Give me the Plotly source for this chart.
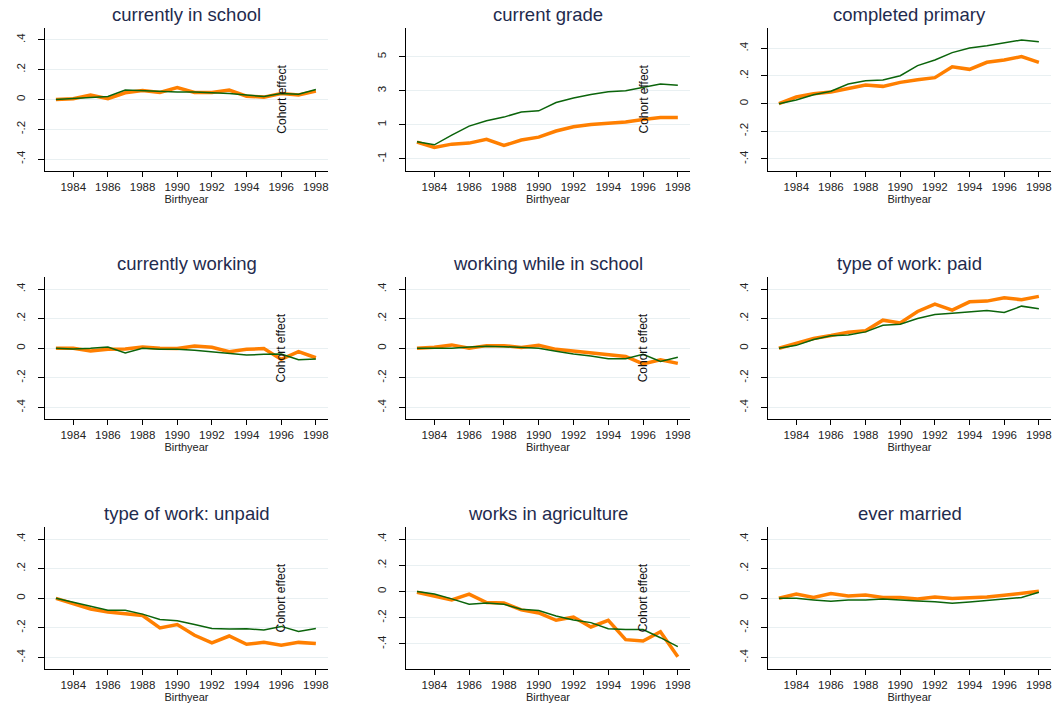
import plotly.graph_objects as go

# Birth cohorts on the horizontal axis
years = list(range(1983, 1999))

# Panel titles (row by row)
titles = [
    "currently in school", "current grade", "completed primary",
    "currently working", "working while in school", "type of work: paid",
    "type of work: unpaid", "works in agriculture", "ever married",
]

# Orange series (thick line) for each panel
school_orange = [0, 0.005, 0.03, 0.005, 0.045, 0.06, 0.047, 0.08, 0.047, 0.047, 0.063, 0.022, 0.016, 0.04, 0.03, 0.056]
grade_orange = [-0.02, -0.33, -0.14, -0.08, 0.14, -0.22, 0.10, 0.27, 0.63, 0.88, 1.02, 1.10, 1.16, 1.31, 1.43, 1.43]
primary_orange = [0, 0.048, 0.072, 0.084, 0.11, 0.135, 0.125, 0.154, 0.173, 0.188, 0.267, 0.248, 0.299, 0.316, 0.34, 0.299]
working_orange = [0, 0, -0.018, -0.007, -0.005, 0.009, 0, -0.002, 0.016, 0.007, -0.023, -0.007, -0.002, -0.075, -0.023, -0.064]
workschool_orange = [0, 0.007, 0.023, 0, 0.018, 0.018, 0.005, 0.02, -0.007, -0.018, -0.03, -0.041, -0.055, -0.105, -0.077, -0.102]
paid_orange = [0, 0.032, 0.066, 0.086, 0.109, 0.118, 0.19, 0.172, 0.249, 0.299, 0.258, 0.314, 0.319, 0.342, 0.328, 0.351]
unpaid_orange = [0, -0.038, -0.072, -0.092, -0.105, -0.116, -0.2, -0.177, -0.25, -0.302, -0.255, -0.311, -0.298, -0.318, -0.298, -0.306]
agri_orange = [-0.005, -0.033, -0.064, -0.02, -0.084, -0.087, -0.14, -0.163, -0.219, -0.194, -0.27, -0.219, -0.367, -0.377, -0.306, -0.497]
married_orange = [0, 0.029, 0.005, 0.032, 0.016, 0.023, 0.005, 0.005, -0.005, 0.009, -0.002, 0.002, 0.009, 0.02, 0.034, 0.047]

# Green series (thin line) for each panel
school_green = [0, 0.007, 0.01, 0.02, 0.063, 0.058, 0.05, 0.05, 0.05, 0.047, 0.04, 0.03, 0.02, 0.04, 0.035, 0.067]
grade_green = [0, -0.18, 0.39, 0.92, 1.24, 1.45, 1.75, 1.82, 2.31, 2.57, 2.78, 2.94, 3.00, 3.20, 3.39, 3.33]
primary_green = [0, 0.027, 0.065, 0.09, 0.142, 0.166, 0.171, 0.202, 0.275, 0.316, 0.369, 0.402, 0.419, 0.441, 0.46, 0.448]
working_green = [0, -0.005, 0, 0.009, -0.032, 0, -0.007, -0.007, -0.014, -0.023, -0.034, -0.045, -0.041, -0.039, -0.077, -0.073]
workschool_green = [0, 0, 0, 0.009, 0.014, 0.011, 0.005, 0, -0.02, -0.039, -0.052, -0.07, -0.07, -0.041, -0.089, -0.061]
paid_green = [0, 0.02, 0.059, 0.084, 0.09, 0.111, 0.156, 0.163, 0.201, 0.228, 0.237, 0.247, 0.256, 0.242, 0.285, 0.267]
unpaid_green = [0, -0.027, -0.056, -0.081, -0.081, -0.107, -0.143, -0.152, -0.177, -0.204, -0.208, -0.206, -0.215, -0.19, -0.224, -0.204]
agri_green = [0, -0.018, -0.056, -0.097, -0.087, -0.097, -0.135, -0.145, -0.186, -0.217, -0.237, -0.283, -0.29, -0.29, -0.352, -0.42]
married_green = [0, 0, -0.011, -0.02, -0.011, -0.011, -0.005, -0.009, -0.018, -0.023, -0.034, -0.025, -0.016, -0.007, 0.005, 0.041]

orange_series = [school_orange, grade_orange, primary_orange, working_orange, workschool_orange,
                 paid_orange, unpaid_orange, agri_orange, married_orange]
green_series = [school_green, grade_green, primary_green, working_green, workschool_green,
                paid_green, unpaid_green, agri_green, married_green]

# Tick values / labels
x_ticks = list(range(1984, 1999, 2))
share_tickvals = [-0.4, -0.2, 0, 0.2, 0.4]
share_ticktext = ["-.4", "-.2", "0", ".2", ".4"]
grade_tickvals = [-1, 1, 3, 5]
grade_ticktext = ["-1", "1", "3", "5"]

# Y ranges per panel
y_ranges = [
    [-0.48, 0.48], [-1.72, 6.69], [-0.487, 0.547],
    [-0.48, 0.48], [-0.48, 0.48], [-0.48, 0.48],
    [-0.48, 0.48], [-0.593, 0.49], [-0.48, 0.48],
]
# Panels that carry the "Cohort effect" label
cohort_label = [True, True, False, True, True, False, True, True, False]

W, H = 1058, 711
col_px = [(45, 328), (406, 690), (768, 1051)]
row_px = [(28, 171), (277.3, 419.3), (527.3, 669.3)]

ORANGE = "#ff7f00"
GREEN = "#0b640b"
TITLE_COLOR = "#1f2b4e"
GRID = "#e9f0f2"
FONT = "Liberation Sans, Arial, sans-serif"

fig = go.Figure()
annotations = []

for i in range(9):
    r, c = divmod(i, 3)
    n = i + 1
    xa = "x" if n == 1 else f"x{n}"
    ya = "y" if n == 1 else f"y{n}"
    xkey = "xaxis" if n == 1 else f"xaxis{n}"
    ykey = "yaxis" if n == 1 else f"yaxis{n}"

    fig.add_trace(go.Scatter(x=years, y=orange_series[i], mode="lines",
                             line=dict(color=ORANGE, width=3.5),
                             xaxis=xa, yaxis=ya, showlegend=False, hoverinfo="skip"))
    fig.add_trace(go.Scatter(x=years, y=green_series[i], mode="lines",
                             line=dict(color=GREEN, width=1.5),
                             xaxis=xa, yaxis=ya, showlegend=False, hoverinfo="skip"))

    x0, x1 = col_px[c]
    t0, t1 = row_px[r]
    xdom = [x0 / W, x1 / W]
    ydom = [1 - t1 / H, 1 - t0 / H]

    if i == 1:
        tv, tt = grade_tickvals, grade_ticktext
    else:
        tv, tt = share_tickvals, share_ticktext

    fig.layout[xkey] = dict(
        domain=xdom, anchor=ya, range=[1982.37, 1998.7],
        tickvals=x_ticks, ticktext=[str(v) for v in x_ticks],
        ticks="outside", ticklen=5, tickwidth=1, tickcolor="#000",
        showline=True, linecolor="#000", linewidth=1.3,
        showgrid=False, zeroline=False,
        tickfont=dict(family=FONT, size=11.5, color="#222"),
        title=dict(text="Birthyear", standoff=0,
                   font=dict(family=FONT, size=11, color="#222")),
    )
    fig.layout[ykey] = dict(
        domain=ydom, anchor=xa, range=y_ranges[i],
        tickvals=tv, ticktext=tt, tickangle=-90,
        ticks="outside", ticklen=6, tickwidth=1, tickcolor="#000",
        showline=True, linecolor="#000", linewidth=1.3,
        showgrid=True, gridcolor=GRID, gridwidth=1, zeroline=False,
        tickfont=dict(family=FONT, size=11.5, color="#222"),
        ticklabelstandoff=8,
    )

    annotations.append(dict(
        text=titles[i], xref="paper", yref="paper",
        x=(xdom[0] + xdom[1]) / 2, y=1 - (t0 - 14) / H,
        xanchor="center", yanchor="middle", showarrow=False,
        font=dict(family=FONT, size=18.5, color=TITLE_COLOR),
    ))
    if cohort_label[i]:
        annotations.append(dict(
            text="Cohort effect", xref=xa, yref=f"{ya} domain",
            x=1996, y=0.5, textangle=-90, showarrow=False,
            xanchor="center", yanchor="middle",
            font=dict(family=FONT, size=12, color="#111"),
        ))

fig.update_layout(
    width=W, height=H,
    margin=dict(l=0, r=0, t=0, b=0),
    paper_bgcolor="white", plot_bgcolor="white",
    annotations=annotations,
    showlegend=False,
)

fig.write_html("out.html")
